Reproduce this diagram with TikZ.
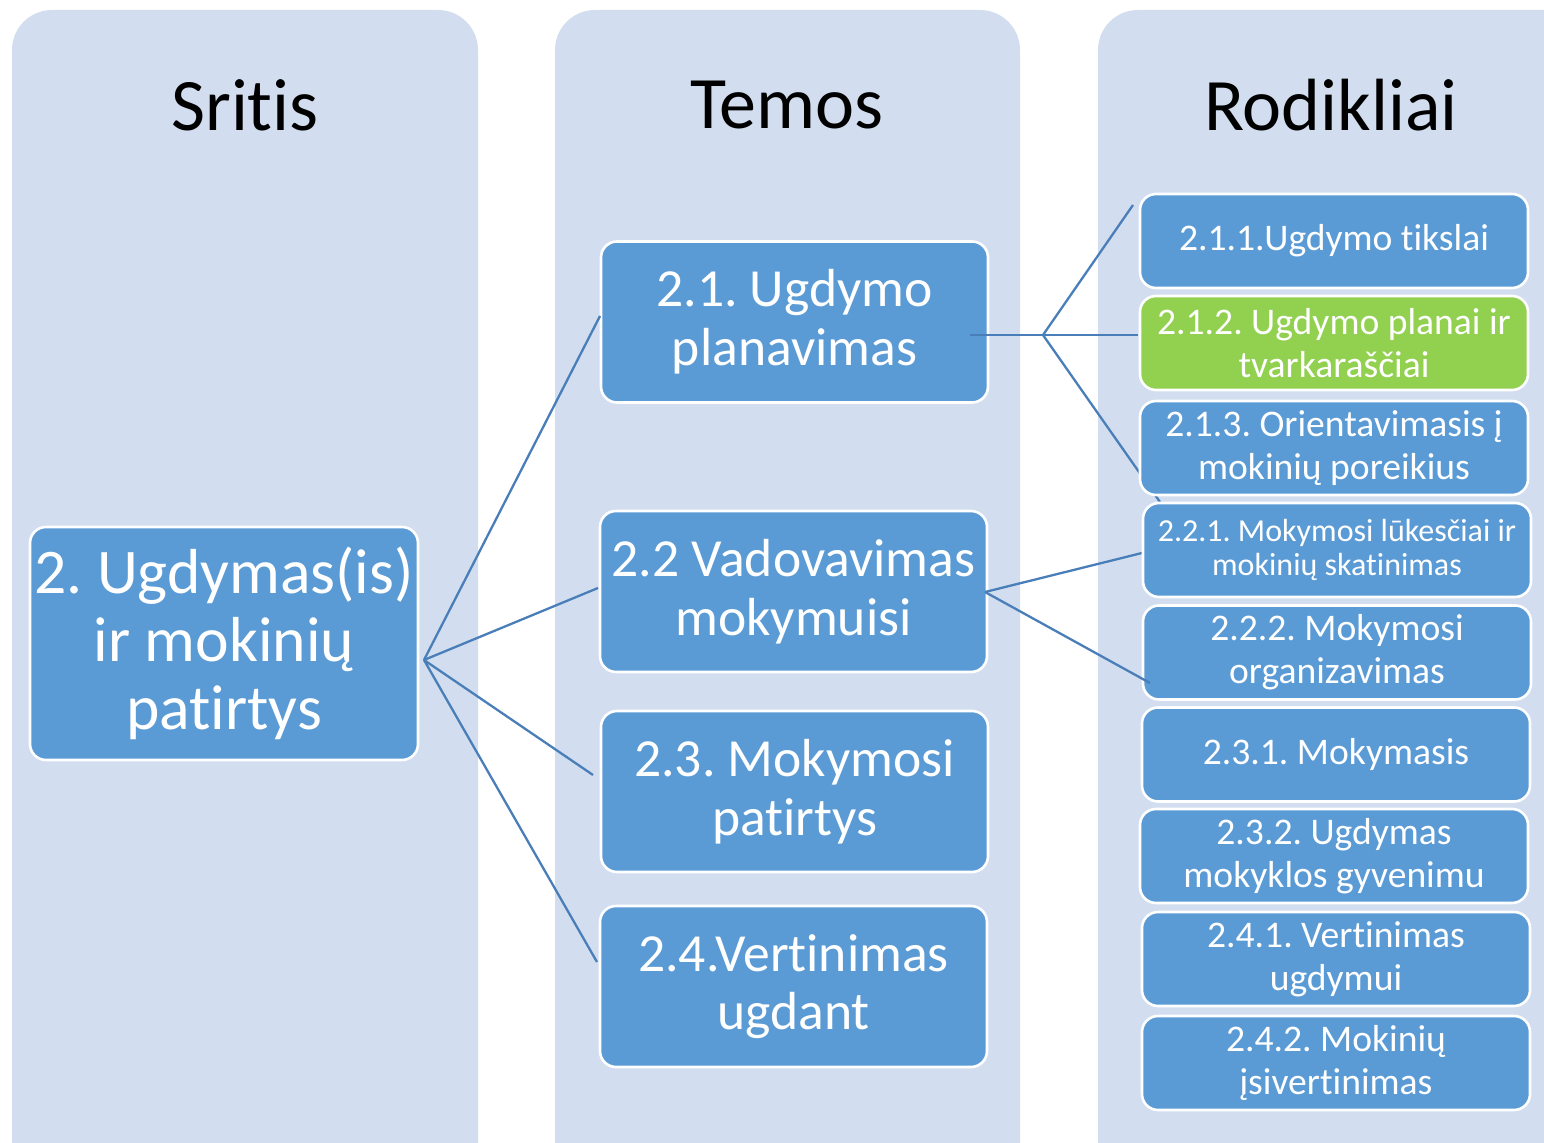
\documentclass[tikz,border=0pt]{standalone}
\usepackage{fontspec}
\setmainfont[Ligatures=NoCommon]{Carlito}
\definecolor{colbg}{HTML}{D2DEEF}
\definecolor{boxblue}{HTML}{5B9BD5}
\definecolor{boxgreen}{HTML}{92D050}
\definecolor{linkc}{HTML}{4A7EB8}
\frenchspacing
\begin{document}
\begin{tikzpicture}[x=0.5pt,y=-0.5pt,
  colbox/.style={fill=colbg, rounded corners=20pt},
  box/.style={draw=white, line width=1.3pt, fill=boxblue, rounded corners=8pt, text=white, align=center, inner sep=0pt},
  mainbox/.style={box, minimum width=194pt, minimum height=116.5pt, font=\fontsize{31.8}{34}\selectfont},
  temabox/.style={box, minimum width=193.5pt, minimum height=80.5pt, font=\fontsize{26.8}{29.3}\selectfont},
  rodbox/.style={box, minimum width=194pt, minimum height=47pt, font=\fontsize{18.8}{21.5}\selectfont},
  title/.style={font=\fontsize{37}{40}\selectfont, text=black, inner sep=0pt},
  link/.style={draw=linkc, line width=1.15pt}]
\useasboundingbox (0,0) rectangle (1544,1143);
\clip (0,0) rectangle (1544,1143);
% column backgrounds
\fill[colbox] (12,1200) -- (12,10) -- (478,10) -- (478,1200) -- cycle;
\fill[colbox] (555,1200) -- (555,10) -- (1020,10) -- (1020,1200) -- cycle;
\fill[colbox] (1098,1200) -- (1098,10) -- (1600,10) -- (1600,1200) -- cycle;
% titles
\node[title] (tSritis) at (245,105) {Sritis};
\node[title] (tTemos) at (787,105) {Temos};
\node[title] (tRod) at (1331,105) {Rodikliai};
% main box
\node[mainbox] (main) at (224,643.5) {2. Ugdymas(is)\\ ir mokinių\\ patirtys};
% temos
\node[temabox] (t21) at (794.5,322) {2.1. Ugdymo\\ planavimas};
\node[temabox] (t22) at (793.5,591.5) {2.2 Vadovavimas\\ mokymuisi};
\node[temabox] (t23) at (794.5,791.5) {2.3. Mokymosi\\ patirtys};
\node[temabox] (t24) at (793.5,986.5) {2.4.Vertinimas\\ ugdant};
% coordinates
\coordinate (hub) at (424,660);
\coordinate (e21) at (600,316);
\coordinate (e22) at (598,588);
\coordinate (e23) at (593,775);
\coordinate (e24) at (597,962);
\coordinate (s21) at (970,335);
\coordinate (fork) at (1043,335);
\coordinate (r1) at (1133,205);
\coordinate (r2) at (1138,335);
\coordinate (r3) at (1160,502);
\coordinate (s22) at (985,592);
\coordinate (r4) at (1142,553);
\coordinate (r5) at (1150,683);
% connectors
\draw[link] (hub) -- (e21);
\draw[link] (hub) -- (e22);
\draw[link] (hub) -- (e23);
\draw[link] (hub) -- (e24);
\draw[link] (s21) -- (fork) -- (r2);
\draw[link] (fork) -- (r1);
\draw[link] (fork) -- (r3);
\draw[link] (s22) -- (r4);
% rodikliai
\node[rodbox] (r211) at (1334,241) {2.1.1.Ugdymo tikslai};
\node[rodbox, fill=boxgreen] (r212) at (1334,343) {2.1.2. Ugdymo planai ir\\ tvarkaraščiai};
\node[rodbox] (r213) at (1334,448) {2.1.3. Orientavimasis į\\ mokinių poreikius};
\node[rodbox, font=\fontsize{16}{17}\selectfont] (r221) at (1337,550) {2.2.1. Mokymosi lūkesčiai ir\\ mokinių skatinimas};
\node[rodbox] (r222) at (1337,652.5) {2.2.2. Mokymosi\\ organizavimas};
\node[rodbox] (r231) at (1336,754.5) {2.3.1. Mokymasis};
\node[rodbox] (r232) at (1334,856) {2.3.2. Ugdymas\\ mokyklos gyvenimu};
\node[rodbox] (r241) at (1336,959) {2.4.1. Vertinimas\\ ugdymui};
\node[rodbox] (r242) at (1336,1063) {2.4.2. Mokinių\\ įsivertinimas};
\draw[link] (s22) -- (r5);
\end{tikzpicture}
\end{document}
